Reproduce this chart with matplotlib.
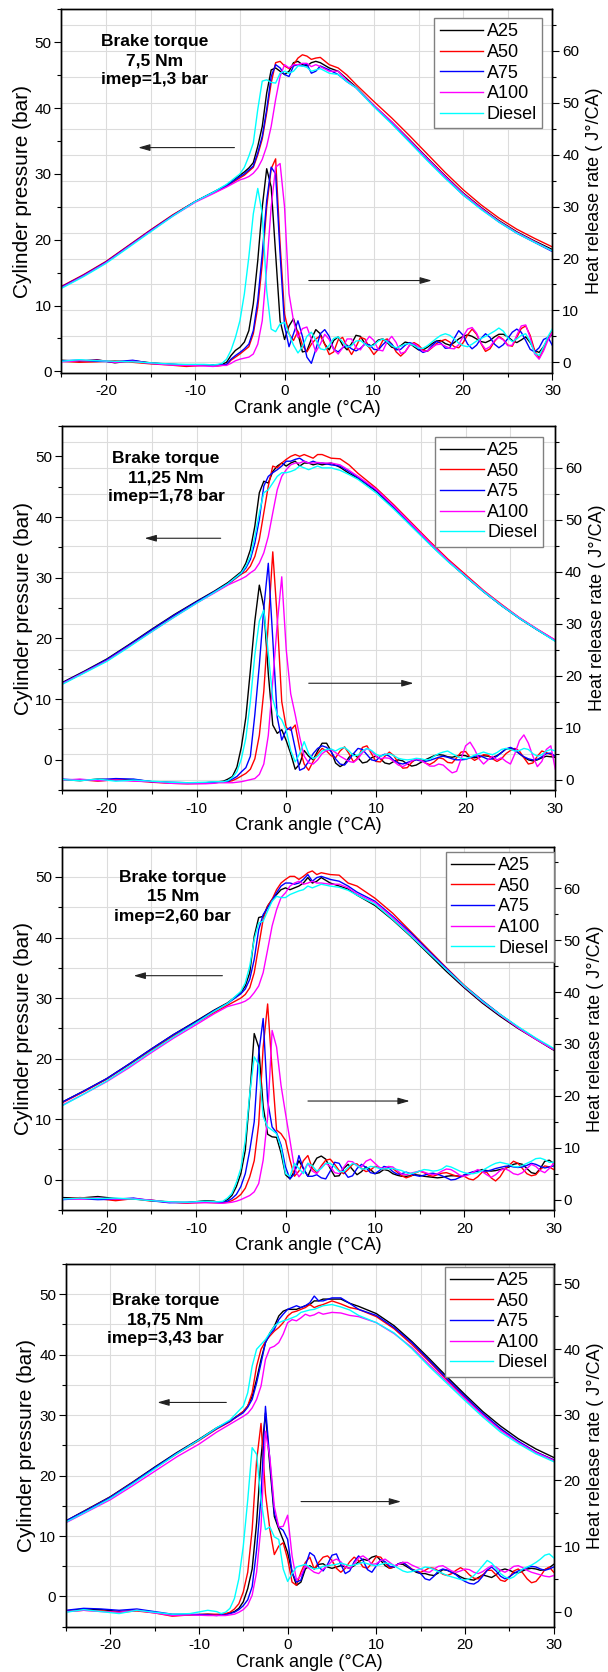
## Cylinder pressure and heat release rate vs crank angle, four load cases

import numpy as np
import matplotlib
matplotlib.use("Agg")
import matplotlib.pyplot as plt
import matplotlib.transforms as mtransforms
from matplotlib.ticker import MultipleLocator

plt.rcParams['font.family'] = ['Liberation Sans', 'DejaVu Sans']
plt.rcParams['axes.unicode_minus'] = False

fuels = ['A25', 'A50', 'A75', 'A100', 'Diesel']
colors = ['#000000', '#ff0000', '#0000ff', '#ff00ff', '#00ffff']

# crank angle grids (deg CA)
xp = [-25, -22.5, -20, -17.5, -15, -12.5, -10, -8, -6.5, -5,
      -4.5, -4, -3.5, -3, -2.5, -2, -1.5, -1, -0.5, 0,
      0.5, 1, 1.5, 2, 2.5, 3, 3.5, 4, 5, 6,
      7, 8, 10, 12, 14, 16, 18, 20, 22, 24,
      26, 28, 30]
xh = [-25, -23, -21, -19, -17, -15, -13, -11, -9, -8,
      -7.5, -7, -6.5, -6, -5.5, -5, -4.5, -4, -3.5, -3, -2.5, -2,
      -1.5, -1, -0.5, 0, 0.5, 1, 1.5, 2, 2.5, 3, 3.5, 4,
      4.5, 5, 5.5, 6, 6.5, 7, 7.5, 8, 8.5, 9,
      9.5, 10, 10.5, 11, 11.5, 12, 12.5, 13, 13.5, 14,
      14.5, 15, 15.5, 16, 16.5, 17, 17.5, 18, 18.5, 19,
      19.5, 20, 20.5, 21, 21.5, 22, 22.5, 23, 23.5, 24,
      24.5, 25, 25.5, 26, 26.5, 27, 27.5, 28, 28.5, 29,
      29.5, 30]

## Panel 1 : 7,5 Nm ~~~~~~~~~~~~~~~~~~~~~~~~~~~~~~~~~~~~~~~~~~~~~~~~~~~~~~~~~~~~~~~~~~~~~~~~~~~~~~~~~~
p1_a25 = [12.8, 14.6, 16.6, 19.0, 21.4, 23.7, 25.8, 27.2, 28.3, 29.8,
          30.3, 30.9, 31.7, 34.2, 37.2, 42.3, 45.8, 46.1, 45.6, 45.1,
          45.6, 46.9, 47.1, 46.6, 46.4, 46.9, 47.1, 46.9, 46.1, 45.6,
          44.4, 43.2, 40.4, 37.9, 35.2, 32.4, 29.7, 27.1, 24.9, 22.9,
          21.2, 19.8, 18.5]
p1_a50 = [12.9, 14.7, 16.7, 19.1, 21.5, 23.8, 25.8, 27.1, 28.1, 29.4,
          29.8, 30.4, 31.0, 32.9, 35.3, 39.3, 43.8, 46.9, 47.1, 46.4,
          46.0, 46.6, 47.6, 48.1, 47.9, 47.4, 47.6, 47.7, 46.6, 46.1,
          45.0, 43.6, 41.0, 38.5, 35.8, 33.0, 30.2, 27.6, 25.3, 23.3,
          21.6, 20.2, 18.9]
p1_a75 = [12.8, 14.6, 16.6, 19.0, 21.4, 23.7, 25.8, 27.2, 28.2, 29.6,
          30.0, 30.6, 31.2, 33.2, 35.7, 39.8, 44.8, 46.6, 46.1, 45.1,
          44.8, 46.4, 46.6, 46.4, 46.7, 45.3, 45.6, 46.4, 45.8, 45.1,
          44.0, 43.1, 40.3, 37.7, 34.9, 32.1, 29.4, 26.8, 24.7, 22.7,
          21.0, 19.6, 18.2]
p1_a100 = [12.7, 14.5, 16.5, 18.9, 21.3, 23.6, 25.7, 27.0, 28.0, 29.1,
           29.3, 29.6, 30.1, 30.9, 32.2, 34.2, 37.2, 41.3, 44.8, 46.6,
           46.1, 46.6, 46.6, 46.8, 46.8, 46.3, 46.6, 46.3, 45.6, 45.6,
           44.2, 43.1, 40.4, 37.9, 35.1, 32.3, 29.6, 27.0, 24.8, 22.8,
           21.1, 19.7, 18.3]
p1_dsl = [12.6, 14.4, 16.4, 18.8, 21.2, 23.6, 25.8, 27.2, 28.4, 30.0,
          31.0, 32.7, 34.7, 39.8, 44.1, 44.3, 43.9, 43.8, 45.3, 45.6,
          45.3, 45.6, 46.4, 46.4, 46.2, 45.6, 45.8, 46.0, 45.3, 45.1,
          44.0, 43.1, 40.2, 37.6, 34.8, 32.0, 29.3, 26.8, 24.6, 22.7,
          21.0, 19.6, 18.3]

h1_a25 = [0.4, 0.2, 0.5, -0.1, 0.3, -0.1, -0.4, -0.5, -0.6, -0.5,
          -0.5, -0.4, 0.0, 1.3, 2.3, 2.9, 3.9, 6.1, 11.3, 19.6, 29.9, 37.3,
          33.8, 20.9, 8.0, 4.4, 7.0, 8.4, 5.5, 2.0, 2.2, 4.5, 6.3, 5.5,
          3.5, 2.4, 4.2, 4.9, 3.3, 2.4, 3.6, 5.2, 5.0, 3.6,
          2.9, 3.5, 4.3, 4.5, 3.8, 2.9, 2.7, 3.2, 3.9, 3.7,
          3.0, 2.4, 2.4, 2.9, 3.6, 4.1, 4.2, 3.6, 3.3, 3.8,
          4.5, 5.0, 5.3, 5.0, 4.5, 4.0, 3.8, 4.2, 4.9, 5.4,
          5.4, 4.9, 4.2, 3.8, 4.3, 4.9, 3.8, 2.3, 1.9, 3.0,
          4.5, 5.5]
h1_a50 = [0.2, 0.0, 0.1, 0.3, 0.0, -0.3, -0.5, -0.8, -0.6, -0.7,
          -0.7, -0.6, -0.5, 0.4, 1.0, 1.6, 2.3, 3.0, 5.5, 10.6, 19.0, 29.9,
          37.3, 39.2, 22.8, 9.3, 5.5, 4.2, 6.0, 3.3, 2.0, 3.5, 4.5, 5.1,
          3.5, 1.5, 2.0, 4.3, 4.8, 3.0, 1.5, 3.0, 4.8, 4.5,
          2.8, 1.5, 2.5, 4.2, 4.5, 3.5, 2.0, 1.2, 2.0, 3.3,
          3.8, 3.3, 2.4, 2.1, 2.8, 3.6, 4.1, 4.4, 3.9, 3.0,
          2.8, 3.8, 5.3, 6.4, 5.4, 3.6, 2.1, 2.6, 4.0, 5.0,
          4.4, 3.3, 3.1, 4.8, 6.5, 7.0, 5.2, 2.3, 0.8, 2.5,
          4.8, 6.0]
h1_a75 = [0.3, 0.4, 0.2, 0.1, 0.4, -0.2, -0.3, -0.6, -0.5, -0.5,
          -0.5, -0.5, -0.4, 0.6, 1.3, 1.9, 2.6, 3.5, 6.1, 11.9, 20.9, 31.2,
          37.6, 36.3, 20.9, 7.0, 3.0, 5.5, 8.0, 5.0, 1.0, -0.2, 2.5, 5.5,
          6.3, 5.0, 2.5, 2.0, 2.8, 3.3, 2.6, 2.2, 2.7, 3.5,
          3.4, 2.5, 2.4, 3.4, 4.2, 3.5, 2.4, 2.5, 3.3, 3.8,
          3.5, 2.5, 1.9, 2.2, 3.2, 4.0, 3.7, 2.7, 2.8, 4.6,
          6.1, 5.2, 3.5, 2.6, 3.3, 4.6, 5.5, 4.8, 3.5, 2.8,
          3.4, 4.6, 5.8, 6.4, 5.8, 4.2, 2.5, 2.0, 2.8, 4.4,
          4.8, 3.2]
h1_a100 = [0.1, 0.3, 0.4, 0.0, 0.2, -0.2, -0.5, -0.6, -0.7, -0.8,
           -0.7, -0.6, -0.6, -0.2, 0.3, 0.6, 0.8, 1.0, 1.6, 3.5, 8.0, 18.3,
           29.9, 37.6, 38.3, 29.9, 13.2, 8.0, 4.8, 6.5, 6.8, 4.5, 2.0, 3.5,
           5.4, 4.4, 2.5, 1.6, 2.8, 4.5, 4.5, 2.8, 2.4, 3.8,
           5.0, 4.2, 2.4, 2.2, 4.0, 5.0, 3.8, 1.7, 2.0, 3.3,
           3.6, 3.0, 2.1, 2.2, 2.9, 3.4, 3.5, 3.1, 2.7, 2.6,
           3.4, 5.0, 6.4, 6.7, 5.6, 3.7, 2.5, 3.0, 4.2, 4.8,
           4.3, 3.2, 3.3, 5.2, 7.0, 7.2, 4.8, 1.6, 0.6, 2.2,
           4.3, 5.8]
h1_dsl = [0.2, 0.5, 0.3, 0.2, 0.1, -0.1, -0.3, -0.4, -0.4, -0.5,
          -0.4, -0.2, 0.6, 2.3, 4.8, 8.0, 13.2, 20.3, 28.6, 33.5, 28.6, 13.8,
          6.4, 5.9, 7.4, 7.7, 5.5, 3.3, 1.8, 3.0, 5.0, 5.8, 4.3, 2.6,
          2.4, 3.3, 4.6, 4.9, 3.9, 2.9, 3.2, 4.1, 4.2, 3.5,
          3.0, 3.3, 4.1, 4.5, 4.0, 3.2, 2.8, 3.1, 3.5, 3.6,
          3.2, 2.7, 2.7, 3.2, 3.9, 4.6, 5.2, 5.5, 5.2, 4.5,
          3.7, 3.2, 3.0, 3.5, 4.1, 4.6, 5.0, 5.5, 6.0, 6.6,
          6.0, 4.7, 4.0, 4.5, 5.2, 5.5, 4.0, 1.8, 1.3, 3.0,
          5.0, 6.5]

## Panel 2 : 11,25 Nm ~~~~~~~~~~~~~~~~~~~~~~~~~~~~~~~~~~~~~~~~~~~~~~~~~~~~~~~~~~~~~~~~~~~~~~~~~~~~~~~~
p2_a25 = [12.7, 14.6, 16.6, 19.0, 21.5, 23.9, 26.1, 27.8, 29.2, 31.0,
          32.4, 34.6, 38.5, 44.0, 45.9, 45.6, 47.5, 48.4, 48.9, 48.4,
          48.9, 49.2, 48.4, 48.9, 48.9, 48.6, 48.8, 48.6, 48.9, 48.2,
          47.2, 46.4, 44.3, 41.5, 38.5, 35.6, 32.8, 30.2, 27.7, 25.4,
          23.3, 21.4, 19.6]
p2_a50 = [12.5, 14.4, 16.4, 18.8, 21.3, 23.7, 25.9, 27.6, 28.9, 30.6,
          31.0, 31.9, 33.5, 36.3, 40.7, 45.1, 48.4, 48.1, 48.9, 49.5,
          50.0, 50.3, 50.0, 50.3, 50.0, 49.7, 50.3, 50.3, 49.7, 49.6,
          48.6, 47.2, 44.8, 42.0, 39.0, 36.0, 33.1, 30.5, 27.9, 25.6,
          23.4, 21.5, 19.7]
p2_a75 = [12.6, 14.5, 16.5, 18.9, 21.4, 23.8, 26.0, 27.7, 29.0, 30.7,
          31.6, 33.0, 35.7, 39.6, 45.1, 46.7, 47.3, 47.8, 48.4, 49.2,
          49.2, 49.5, 49.7, 49.2, 48.9, 49.2, 48.9, 48.9, 48.6, 48.4,
          47.5, 46.5, 44.4, 41.6, 38.6, 35.6, 32.8, 30.2, 27.7, 25.4,
          23.3, 21.4, 19.6]
p2_a100 = [12.5, 14.4, 16.3, 18.7, 21.1, 23.5, 25.8, 27.5, 28.8, 29.8,
           30.2, 30.8, 31.3, 32.4, 34.1, 36.8, 40.7, 44.5, 46.7, 47.8,
           48.6, 48.9, 48.9, 49.2, 48.9, 48.9, 49.0, 48.9, 48.9, 48.6,
           47.7, 46.7, 44.6, 41.8, 38.8, 35.8, 32.9, 30.3, 27.8, 25.5,
           23.4, 21.5, 19.7]
p2_dsl = [12.4, 14.3, 16.2, 18.6, 21.1, 23.5, 25.8, 27.6, 29.0, 30.8,
          31.9, 33.5, 36.8, 40.7, 44.0, 44.5, 45.6, 46.7, 47.3, 47.3,
          47.5, 47.8, 48.4, 48.1, 47.8, 48.1, 48.4, 48.1, 48.1, 47.7,
          47.0, 46.2, 44.0, 41.3, 38.4, 35.5, 32.7, 30.2, 27.7, 25.4,
          23.3, 21.4, 19.5]

h2_a25 = [0.0, -0.2, 0.1, -0.1, 0.0, -0.4, -0.6, -0.7, -0.6, -0.5,
          -0.4, -0.3, 0.1, 0.6, 2.4, 6.3, 12.0, 21.0, 30.5, 37.4, 33.2, 20.4,
          10.5, 8.9, 9.6, 7.5, 5.0, 2.0, 3.0, 5.6, 4.5, 3.8, 5.5, 7.0,
          7.0, 5.5, 3.2, 2.5, 3.0, 4.3, 5.0, 4.2, 3.2, 3.4,
          4.2, 4.5, 4.0, 3.2, 3.0, 3.5, 3.8, 3.6, 3.0, 2.6,
          2.8, 3.3, 3.8, 4.2, 4.6, 4.8, 4.7, 4.4, 4.3, 4.5,
          4.7, 4.6, 4.3, 4.2, 4.4, 4.6, 4.5, 4.3, 4.6, 5.2,
          5.9, 6.0, 5.6, 5.0, 4.3, 3.8, 3.6, 3.8, 4.2, 4.5,
          4.4, 4.3]
h2_a50 = [-0.1, 0.0, -0.3, 0.0, -0.2, -0.5, -0.7, -0.8, -0.7, -0.6,
          -0.5, -0.5, -0.4, -0.2, 0.2, 0.7, 1.2, 2.0, 4.0, 8.5, 17.0, 30.0,
          43.8, 31.0, 15.0, 10.0, 9.5, 10.5, 6.0, 3.0, 1.8, 3.5, 5.0, 6.0,
          5.5, 4.6, 4.2, 5.5, 6.3, 5.0, 3.4, 4.2, 6.2, 6.5,
          5.0, 3.5, 3.4, 4.5, 5.3, 4.6, 3.2, 2.2, 2.3, 3.3,
          4.0, 3.9, 3.2, 2.9, 3.4, 4.2, 4.0, 3.3, 3.2, 4.2,
          5.3, 5.4, 4.3, 3.7, 4.2, 4.8, 4.7, 4.0, 3.5, 4.0,
          5.0, 5.6, 6.0, 5.5, 4.2, 3.0, 3.2, 4.5, 5.5, 5.2,
          4.8, 4.5]
h2_a75 = [0.1, -0.1, 0.0, 0.2, 0.1, -0.4, -0.5, -0.6, -0.6, -0.5,
          -0.5, -0.4, -0.3, 0.1, 0.6, 1.5, 2.3, 4.5, 12.5, 22.0, 33.0, 41.6,
          27.0, 12.0, 7.6, 9.5, 10.1, 6.0, 1.8, 2.2, 3.5, 5.0, 6.0, 6.5,
          6.2, 5.4, 4.0, 3.0, 2.8, 3.8, 5.0, 6.0, 5.8, 4.8,
          3.8, 3.6, 4.5, 4.9, 4.5, 3.7, 3.2, 3.0, 3.3, 3.6,
          3.8, 3.6, 3.5, 3.7, 4.0, 4.3, 4.5, 4.3, 4.0, 3.8,
          3.8, 3.9, 4.2, 4.5, 4.6, 4.3, 3.9, 4.0, 4.5, 5.2,
          5.9, 6.2, 5.8, 5.0, 4.4, 4.0, 3.8, 3.9, 4.4, 5.0,
          5.1, 4.5]
h2_a100 = [-0.1, 0.1, -0.2, -0.1, -0.3, -0.4, -0.7, -0.8, -0.8, -0.7,
           -0.6, -0.6, -0.6, -0.6, -0.5, -0.4, -0.2, 0.0, 0.2, 1.0, 3.0, 8.5,
           19.0, 30.0, 39.0, 25.0, 16.5, 12.5, 8.2, 4.5, 3.2, 3.0, 3.8, 5.0,
           5.6, 5.8, 5.2, 4.5, 4.0, 3.5, 3.3, 4.0, 5.2, 6.0,
           5.5, 4.5, 4.0, 4.2, 4.1, 3.5, 2.8, 2.5, 3.0, 3.6,
           4.0, 3.7, 3.2, 2.6, 2.6, 3.0, 2.8, 2.0, 1.3, 1.6,
           4.0, 6.5, 7.2, 5.8, 4.0, 3.0, 3.8, 4.5, 3.8, 4.2,
           3.5, 3.0, 5.0, 7.5, 8.6, 7.0, 4.5, 2.5, 3.5, 5.8,
           6.5, 2.0]
h2_dsl = [0.0, -0.2, 0.1, -0.3, -0.1, -0.3, -0.5, -0.6, -0.5, -0.4,
          -0.4, -0.4, -0.2, 0.4, 1.5, 4.0, 8.0, 15.0, 24.0, 30.5, 32.6, 24.3,
          15.5, 12.5, 11.5, 9.5, 5.6, 3.4, 5.0, 7.3, 5.0, 4.0, 4.5, 5.5,
          5.8, 5.9, 5.5, 6.0, 6.2, 5.5, 4.6, 4.7, 5.5, 6.0,
          5.6, 4.9, 4.5, 4.8, 5.0, 4.6, 4.1, 3.9, 3.8, 3.9,
          4.1, 4.0, 3.8, 3.9, 4.5, 5.0, 5.3, 5.5, 5.0, 4.5,
          4.1, 4.0, 4.3, 4.7, 5.0, 5.3, 5.0, 4.8, 5.2, 5.8,
          6.0, 5.8, 5.5, 5.6, 6.0, 5.8, 5.0, 4.5, 4.8, 5.5,
          5.8, 5.5]

## Panel 3 : 15 Nm ~~~~~~~~~~~~~~~~~~~~~~~~~~~~~~~~~~~~~~~~~~~~~~~~~~~~~~~~~~~~~~~~~~~~~~~~~~~~~~~~~~~
p3_a25 = [12.8, 14.7, 16.7, 19.1, 21.6, 24.0, 26.2, 28.0, 29.2, 30.9,
          32.0, 34.2, 40.2, 43.3, 43.5, 45.2, 46.3, 47.1, 47.9, 48.2,
          47.9, 48.2, 48.5, 49.0, 49.9, 49.0, 49.3, 49.9, 49.0, 48.5,
          48.0, 47.0, 45.3, 42.9, 40.2, 37.3, 34.4, 31.7, 29.2, 27.0,
          25.0, 23.2, 21.4]
p3_a50 = [12.7, 14.6, 16.6, 19.0, 21.4, 23.8, 25.9, 27.6, 28.8, 30.0,
          30.6, 31.7, 34.2, 38.6, 43.0, 45.2, 46.3, 47.9, 49.0, 49.6,
          50.1, 50.1, 49.6, 50.1, 50.7, 51.0, 50.4, 50.7, 50.4, 50.3,
          49.0, 48.5, 46.5, 44.0, 41.0, 38.0, 35.0, 32.1, 29.6, 27.3,
          25.2, 23.3, 21.5]
p3_a75 = [12.8, 14.7, 16.7, 19.1, 21.6, 24.0, 26.1, 27.9, 29.1, 30.7,
          31.5, 33.1, 36.4, 41.3, 43.8, 44.9, 46.1, 47.4, 48.5, 49.0,
          49.0, 48.8, 49.0, 49.6, 50.4, 49.3, 49.9, 50.1, 49.6, 49.3,
          48.5, 47.5, 46.0, 43.5, 40.8, 37.8, 34.9, 32.0, 29.6, 27.3,
          25.2, 23.3, 21.5]
p3_a100 = [12.3, 14.2, 16.2, 18.5, 21.0, 23.4, 25.6, 27.4, 28.6, 29.2,
           29.5, 30.0, 30.9, 32.0, 34.2, 38.0, 41.9, 44.6, 46.6, 47.4,
           48.5, 49.0, 49.3, 48.8, 49.0, 49.3, 49.0, 49.0, 48.8, 48.8,
           48.2, 47.2, 45.8, 43.3, 40.5, 37.6, 34.7, 31.9, 29.4, 27.2,
           25.1, 23.2, 21.5]
p3_dsl = [12.2, 14.2, 16.3, 18.7, 21.2, 23.6, 25.9, 27.8, 29.1, 31.1,
          32.5, 35.3, 39.7, 42.4, 42.7, 44.4, 46.0, 46.8, 46.6, 46.6,
          47.1, 47.4, 47.7, 47.9, 48.5, 48.2, 48.5, 48.8, 48.5, 48.3,
          47.8, 47.0, 45.5, 43.0, 40.3, 37.5, 34.7, 32.0, 29.5, 27.3,
          25.3, 23.4, 21.7]

h3_a25 = [0.4, 0.3, 0.6, 0.2, 0.1, -0.1, -0.5, -0.6, -0.2, -0.3,
          -0.5, -0.4, 0.0, 0.8, 2.5, 5.0, 9.5, 20.0, 32.0, 29.4, 18.0, 12.6,
          12.1, 12.0, 9.0, 4.8, 4.0, 5.5, 7.5, 6.0, 4.5, 6.5, 8.0, 8.4,
          7.8, 6.0, 4.5, 4.6, 6.0, 6.8, 5.8, 4.8, 5.4, 6.3,
          5.8, 5.0, 5.2, 5.8, 5.6, 5.0, 4.7, 4.5, 4.5, 4.6,
          4.8, 4.7, 4.5, 4.4, 4.3, 4.2, 4.3, 4.5, 4.6, 4.6,
          4.5, 4.7, 5.0, 5.3, 5.5, 5.8, 5.6, 5.5, 5.6, 5.8,
          6.0, 6.3, 6.8, 7.0, 6.8, 6.0, 5.2, 5.0, 6.0, 7.4,
          7.6, 7.0]
h3_a50 = [0.1, 0.4, 0.2, -0.2, 0.2, -0.3, -0.4, -0.7, -0.5, -0.6,
          -0.6, -0.6, -0.5, -0.2, 0.3, 1.0, 2.2, 4.4, 7.5, 14.5, 29.4, 37.7,
          25.0, 13.4, 12.7, 11.4, 7.6, 4.5, 5.5, 7.5, 8.5, 6.0, 5.2, 6.5,
          7.6, 7.8, 6.8, 5.6, 5.0, 5.8, 6.8, 6.9, 6.0, 5.4,
          5.7, 6.4, 6.2, 5.8, 6.1, 6.0, 5.3, 4.6, 4.2, 4.5,
          5.1, 5.5, 5.2, 4.7, 4.5, 4.8, 5.1, 5.2, 4.9, 4.6,
          4.4, 4.5, 4.0, 3.8, 4.4, 5.3, 5.3, 4.2, 3.6, 4.4,
          5.8, 6.6, 7.4, 7.0, 6.0, 5.0, 4.6, 4.8, 5.8, 6.5,
          6.3, 5.8]
h3_a75 = [0.0, 0.2, 0.0, 0.1, 0.3, -0.2, -0.6, -0.5, -0.4, -0.5,
          -0.5, -0.5, -0.3, 0.2, 1.0, 2.5, 5.0, 9.5, 15.0, 28.1, 34.9, 19.0,
          14.0, 12.9, 10.5, 6.3, 4.0, 5.0, 8.5, 6.0, 4.5, 4.5, 4.8, 4.2,
          4.0, 5.5, 7.2, 7.0, 5.5, 4.3, 4.6, 6.0, 6.8, 6.2,
          5.2, 5.0, 5.6, 6.4, 6.2, 5.4, 4.9, 5.0, 5.3, 5.0,
          4.7, 4.5, 4.7, 5.0, 5.1, 4.9, 4.6, 4.2, 3.8, 3.9,
          4.3, 4.8, 5.1, 5.4, 5.5, 5.5, 5.5, 5.7, 6.0, 6.2,
          6.4, 6.5, 6.3, 6.2, 6.3, 6.6, 7.0, 6.8, 6.4, 6.1,
          6.3, 6.5]
h3_a100 = [0.2, 0.1, 0.3, 0.1, 0.2, -0.1, -0.5, -0.6, -0.6, -0.6,
           -0.7, -0.7, -0.6, -0.5, -0.3, 0.0, 0.4, 0.8, 1.5, 3.1, 7.6, 15.9,
           32.6, 29.4, 22.0, 16.6, 11.4, 6.0, 4.4, 5.5, 7.0, 5.5, 5.0, 6.2,
           7.0, 6.4, 5.2, 5.0, 6.2, 7.4, 7.3, 6.5, 6.3, 7.4,
           7.8, 7.0, 6.2, 6.0, 6.4, 6.3, 5.6, 4.9, 4.8, 5.1,
           5.3, 5.5, 5.3, 5.0, 4.8, 5.0, 5.5, 5.9, 5.8, 5.3,
           4.7, 4.5, 4.8, 5.3, 5.8, 5.4, 4.8, 4.3, 4.8, 5.6,
           6.0, 5.6, 5.0, 4.8, 5.2, 6.0, 6.8, 6.4, 5.6, 5.2,
           6.0, 7.0]
h3_dsl = [0.1, 0.3, 0.2, 0.3, 0.1, -0.2, -0.4, -0.5, -0.3, -0.4,
          -0.4, -0.3, 0.3, 1.2, 3.3, 6.0, 11.4, 20.4, 27.5, 26.0, 16.0, 14.0,
          13.4, 12.7, 10.0, 5.0, 4.5, 7.0, 6.0, 5.0, 7.0, 6.5, 5.5, 6.0,
          7.0, 7.0, 6.3, 5.4, 5.4, 6.2, 7.0, 6.6, 5.9, 5.9,
          6.4, 6.3, 6.0, 5.9, 6.0, 6.0, 5.8, 5.6, 5.2, 5.0,
          5.2, 5.5, 5.8, 5.7, 5.5, 5.6, 5.9, 6.5, 6.3, 5.9,
          5.5, 5.2, 5.0, 5.0, 5.2, 5.6, 6.1, 6.6, 7.0, 7.2,
          7.0, 6.8, 6.4, 6.3, 6.6, 7.0, 7.4, 7.9, 8.0, 7.7,
          7.2, 7.2]

## Panel 4 : 18,75 Nm ~~~~~~~~~~~~~~~~~~~~~~~~~~~~~~~~~~~~~~~~~~~~~~~~~~~~~~~~~~~~~~~~~~~~~~~~~~~~~~~~
p4_a25 = [12.5, 14.5, 16.5, 18.9, 21.4, 23.8, 26.0, 27.9, 29.0, 30.6,
          31.5, 33.1, 35.9, 39.2, 42.0, 43.6, 44.7, 46.4, 47.2, 47.5,
          47.5, 47.5, 47.8, 48.1, 48.3, 48.9, 48.9, 49.2, 49.2, 49.2,
          48.5, 48.0, 46.8, 44.8, 42.2, 39.3, 36.3, 33.4, 30.6, 28.2,
          26.1, 24.4, 23.0]
p4_a50 = [12.4, 14.4, 16.4, 18.8, 21.2, 23.6, 25.8, 27.7, 28.9, 30.6,
          31.5, 33.7, 38.1, 40.9, 42.2, 43.1, 43.9, 44.5, 45.3, 46.4,
          47.0, 47.2, 47.5, 47.8, 48.3, 47.8, 48.1, 48.3, 48.9, 48.4,
          47.8, 47.5, 46.3, 44.3, 41.7, 38.8, 35.8, 32.9, 30.1, 27.7,
          25.6, 23.9, 22.6]
p4_a75 = [12.5, 14.4, 16.4, 18.8, 21.3, 23.7, 25.9, 27.8, 29.0, 30.4,
          31.3, 32.6, 35.3, 38.6, 42.0, 43.4, 44.2, 45.8, 46.7, 47.5,
          47.8, 48.1, 47.8, 48.1, 48.6, 49.7, 48.9, 48.9, 49.4, 49.4,
          48.5, 47.5, 46.5, 44.5, 42.0, 39.0, 36.0, 33.1, 30.3, 27.8,
          25.7, 23.9, 22.6]
p4_a100 = [12.2, 14.1, 16.0, 18.3, 20.7, 23.1, 25.2, 27.2, 28.5, 29.8,
           30.3, 31.2, 32.6, 34.8, 39.2, 41.1, 41.4, 42.0, 43.4, 45.3,
           45.8, 45.6, 46.1, 46.7, 46.4, 46.6, 47.0, 46.7, 47.0, 46.9,
           46.5, 46.3, 45.3, 43.5, 41.2, 38.3, 35.5, 32.7, 30.0, 27.5,
           25.5, 23.8, 22.5]
p4_dsl = [12.3, 14.2, 16.2, 18.6, 21.1, 23.6, 25.9, 27.9, 29.2, 31.5,
          33.7, 38.1, 40.9, 41.7, 42.5, 43.6, 44.7, 45.3, 45.6, 45.8,
          46.1, 46.4, 47.0, 47.2, 47.4, 47.5, 47.8, 48.1, 48.3, 47.9,
          47.4, 46.5, 45.3, 43.6, 41.0, 38.0, 35.2, 32.4, 29.7, 27.2,
          25.3, 23.6, 22.3]

h4_a25 = [0.1, 0.4, 0.3, 0.0, 0.2, -0.1, -0.5, -0.5, -0.4, -0.5,
          -0.5, -0.4, -0.2, 0.0, 0.5, 1.5, 3.5, 6.5, 13.5, 23.5, 30.3, 22.1,
          14.5, 12.6, 10.9, 9.0, 6.0, 4.0, 4.5, 6.5, 7.0, 6.5, 7.2, 7.3,
          6.8, 6.6, 6.8, 7.0, 6.8, 6.6, 7.0, 7.6, 8.0, 7.8,
          8.3, 8.5, 7.8, 7.0, 6.6, 6.8, 7.3, 7.2, 6.8, 6.4,
          6.0, 5.8, 5.8, 5.6, 5.5, 5.9, 6.4, 6.3, 6.0, 5.7,
          5.3, 5.0, 4.9, 4.8, 5.2, 5.6, 5.4, 5.2, 5.6, 6.3,
          6.5, 6.3, 6.0, 5.9, 6.2, 6.5, 6.6, 6.5, 6.3, 6.4,
          6.7, 7.2]
h4_a50 = [0.0, 0.2, 0.1, -0.1, 0.1, -0.2, -0.7, -0.5, -0.4, -0.4,
          -0.4, -0.3, -0.1, 0.4, 1.2, 3.0, 6.0, 12.5, 23.0, 28.7, 18.0, 12.5,
          8.7, 10.0, 10.5, 8.0, 4.5, 4.0, 6.0, 7.5, 8.3, 6.5, 7.5, 8.3,
          8.5, 7.8, 6.6, 6.0, 6.6, 7.6, 8.3, 7.8, 6.8, 6.6,
          7.4, 8.4, 8.3, 7.4, 6.6, 6.8, 7.3, 7.5, 7.0, 6.5,
          6.2, 6.0, 6.3, 6.7, 6.6, 6.2, 5.7, 5.5, 5.8, 6.3,
          6.7, 6.3, 5.6, 5.1, 5.0, 5.6, 6.3, 6.3, 5.6, 4.8,
          4.6, 5.2, 6.2, 6.5, 5.9, 5.0, 4.4, 4.6, 5.4, 6.4,
          6.8, 6.0]
h4_a75 = [0.2, 0.5, 0.4, 0.2, 0.4, 0.0, -0.4, -0.4, -0.5, -0.6,
          -0.5, -0.5, -0.3, -0.1, 0.3, 0.9, 1.8, 3.8, 9.4, 17.5, 31.3, 23.0,
          15.0, 12.9, 12.4, 11.0, 6.0, 4.5, 4.8, 7.0, 9.0, 8.5, 6.8, 6.2,
          7.2, 8.6, 8.8, 7.2, 5.8, 6.2, 7.6, 8.5, 7.8, 6.4,
          6.0, 7.0, 7.9, 7.6, 6.9, 6.8, 7.3, 7.5, 7.0, 6.4,
          6.2, 5.8, 5.0, 4.8, 5.4, 6.2, 6.5, 6.3, 6.0, 5.6,
          5.0, 4.6, 4.3, 4.2, 4.6, 5.4, 6.3, 6.8, 6.2, 5.4,
          5.0, 5.3, 5.8, 6.2, 6.4, 6.7, 6.9, 6.8, 6.5, 6.3,
          6.5, 6.8]
h4_a100 = [0.0, 0.2, 0.0, -0.1, 0.2, -0.2, -0.6, -0.5, -0.6, -0.6,
           -0.6, -0.6, -0.5, -0.4, -0.1, 0.3, 1.0, 2.5, 6.0, 13.0, 27.5, 23.5,
           16.0, 12.9, 13.0, 14.7, 8.5, 4.8, 5.5, 7.0, 6.5, 6.0, 5.8, 6.5,
           7.0, 7.7, 8.0, 7.6, 6.8, 6.6, 7.3, 8.2, 8.5, 8.0,
           7.2, 7.3, 7.8, 8.0, 7.5, 7.0, 7.2, 7.5, 7.5, 7.1,
           6.8, 6.5, 6.1, 6.0, 6.5, 6.9, 7.0, 6.6, 6.2, 6.0,
           6.2, 6.5, 6.4, 6.0, 5.8, 6.1, 6.6, 7.0, 6.8, 6.3,
           6.0, 6.4, 6.9, 7.0, 6.7, 6.3, 6.0, 5.8, 5.6, 5.4,
           5.3, 5.5]
h4_dsl = [-0.1, 0.3, 0.0, -0.3, 0.2, -0.1, -0.4, -0.3, 0.2, 0.0,
          -0.3, -0.1, 0.5, 2.0, 5.0, 10.0, 17.0, 25.0, 24.0, 17.0, 12.5, 12.9,
          11.4, 11.0, 6.5, 4.6, 5.8, 6.8, 7.0, 7.2, 6.8, 6.5, 6.6, 6.9,
          7.0, 7.1, 7.2, 7.4, 7.2, 7.0, 7.1, 7.3, 7.5, 7.3,
          7.1, 7.0, 7.2, 7.4, 7.3, 7.0, 6.6, 6.2, 6.0, 6.1,
          6.3, 6.5, 6.8, 6.7, 6.4, 6.1, 5.8, 5.5, 5.3, 5.1,
          4.9, 4.8, 5.0, 5.5, 6.2, 7.0, 7.8, 7.4, 6.6, 5.8,
          5.3, 5.0, 5.3, 5.9, 6.5, 6.8, 7.1, 7.5, 8.0, 8.6,
          8.8, 8.2]

torques = ['7,5 Nm', '11,25 Nm', '15 Nm', '18,75 Nm']
imeps = ['imep=1,3 bar', 'imep=1,78 bar', 'imep=2,60 bar', 'imep=3,43 bar']

pressures = [[p1_a25, p1_a50, p1_a75, p1_a100, p1_dsl],
             [p2_a25, p2_a50, p2_a75, p2_a100, p2_dsl],
             [p3_a25, p3_a50, p3_a75, p3_a100, p3_dsl],
             [p4_a25, p4_a50, p4_a75, p4_a100, p4_dsl]]
hrrs = [[h1_a25, h1_a50, h1_a75, h1_a100, h1_dsl],
        [h2_a25, h2_a50, h2_a75, h2_a100, h2_dsl],
        [h3_a25, h3_a50, h3_a75, h3_a100, h3_dsl],
        [h4_a25, h4_a50, h4_a75, h4_a100, h4_dsl]]

# layout of each panel (figure fractions) and cosmetic placement
rects = [[0.1008, 0.7771, 0.8079, 0.2173],
         [0.1020, 0.5275, 0.8113, 0.2177],
         [0.1020, 0.2763, 0.8087, 0.2173],
         [0.1084, 0.0271, 0.8023, 0.2169]]
left_lims = [(-0.2, 55), (-5, 55), (-5, 55), (-5, 55)]
right_lims = [(-2, 68), (-2, 68), (-2, 68), (-2.3, 53)]
grid_from_right = [True, True, False, False]
text_pos = [(-14.5, 47.2), (-13.4, 46.5), (-12.6, 46.7), (-13.8, 45.8)]
left_arrows = [((-5.3, 34.0), (-16.7, 34.0)), ((-7.0, 36.5), (-16.1, 36.5)),
               ((-6.75, 33.7), (-17.3, 33.7)), ((-6.6, 32.1), (-15.0, 32.1))]
right_arrows = [((2.4, 13.8), (16.8, 13.8)), ((2.2, 12.6), (14.5, 12.6)),
                ((2.2, 13.0), (14.2, 13.0)), ((1.2, 15.7), (13.1, 15.7))]
legend_anchor = [(0.979, 0.976), (0.975, 0.971), (1.0, 0.986), (0.998, 0.993)]

gridc = '#dcdcdc'
fig = plt.figure(figsize=(6.08, 16.72), dpi=100)

for i in range(4):
    ax = fig.add_axes(rects[i])
    ax2 = ax.twinx()
    ax.set_zorder(1)
    ax2.set_zorder(2)

    ax.set_xlim(-25, 30)
    ax.set_ylim(*left_lims[i])
    ax2.set_ylim(*right_lims[i])

    # light grid behind everything
    ax.xaxis.set_major_locator(MultipleLocator(10))
    ax.xaxis.set_minor_locator(MultipleLocator(5))
    for a in (ax, ax2):
        a.yaxis.set_major_locator(MultipleLocator(10))
        a.yaxis.set_minor_locator(MultipleLocator(5))
    ax.set_axisbelow(True)
    ax.grid(axis='x', which='both', color=gridc, lw=0.8)
    if grid_from_right[i]:
        tr = mtransforms.blended_transform_factory(ax.transAxes, ax2.transData)
        for v in np.arange(0, right_lims[i][1], 5):
            ax.plot([0, 1], [v, v], transform=tr, color=gridc, lw=0.8, zorder=0)
    else:
        ax.grid(axis='y', which='both', color=gridc, lw=0.8)

    handles = []
    for j in range(5):
        ln, = ax.plot(xp, pressures[i][j], color=colors[j], lw=1.0, zorder=2)
        ax2.plot(xh, hrrs[i][j], color=colors[j], lw=1.0)
        handles.append(ln)

    ax.set_xlim(-25, 30)
    ax.set_ylim(*left_lims[i])

    ax.text(text_pos[i][0], text_pos[i][1], 'Brake torque\n' + torques[i] + '\n' + imeps[i],
            ha='center', va='center', fontsize=12.5, fontweight='bold', linespacing=1.35)

    for (tail, head) in (left_arrows[i], right_arrows[i]):
        ax.annotate('', xy=head, xytext=tail,
                    arrowprops=dict(arrowstyle='-|>,head_length=0.7,head_width=0.2',
                                    color='#222222', lw=0.8, mutation_scale=10))

    for a in (ax, ax2):
        a.tick_params(which='both', direction='out', width=0.8, labelsize=11)
        a.tick_params(which='major', length=5)
        a.tick_params(which='minor', length=3)
        for s in a.spines.values():
            s.set_linewidth(1.0)
    ax.tick_params(axis='y', pad=2)
    ax2.tick_params(axis='y', pad=2)

    ax.set_xlabel('Crank angle (°CA)', fontsize=13, labelpad=1)
    ax.set_ylabel('Cylinder pressure (bar)', fontsize=15, labelpad=2)
    ax2.set_ylabel('Heat release rate ( J°/CA)', fontsize=13, labelpad=5)

    leg = ax2.legend(handles, fuels, loc='upper right', bbox_to_anchor=legend_anchor[i],
                     fontsize=13, frameon=True, fancybox=False, framealpha=1,
                     edgecolor='#808080', handlelength=2.4, handletextpad=0.2,
                     labelspacing=0.2, borderpad=0.3, borderaxespad=0)
    leg.get_frame().set_linewidth(1.0)

fig.savefig('out.png', dpi=100)
